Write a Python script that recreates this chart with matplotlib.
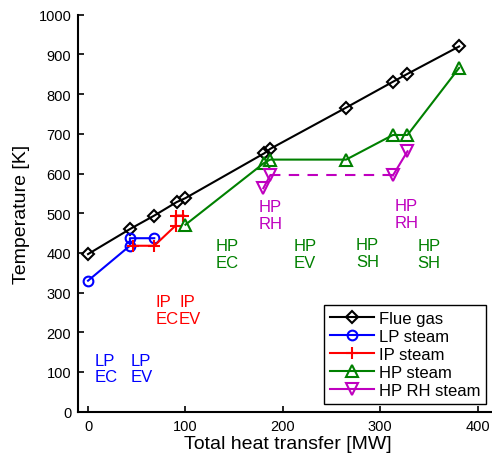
import matplotlib
matplotlib.use("Agg")
import matplotlib.pyplot as plt

plt.rcParams['font.family'] = ['Liberation Sans', 'DejaVu Sans']

# Heat-transfer (MW) vs temperature (K) profiles
flue_q = [0, 43, 68, 91, 100, 181, 187, 265, 313, 328, 381]
flue_t = [397, 460, 494, 528, 538, 651, 662, 766, 831, 851, 920]

lp_q = [0, 43, 43, 68]
lp_t = [330, 418, 437, 437]

ip_q = [46, 68, 90, 90, 98]
ip_t = [418, 418, 469, 494, 494]

hp_q = [100, 181, 187, 265, 313, 328, 381]
hp_t = [471, 627, 635, 635, 697, 697, 866]

rh_q = [180, 187, 313, 328]
rh_t = [563, 595, 595, 656]

# Section labels: (x, y, text, colour)
labels_text = ["LP\nEC", "LP\nEV", "IP\nEC", "IP\nEV", "HP\nEC", "HP\nEV",
               "HP\nSH", "HP\nSH", "HP\nRH", "HP\nRH"]
labels_x = [6.5, 44, 69.5, 93.4, 130.5, 211, 275, 338.5, 175, 314.5]
labels_y = [109, 109, 256, 256, 397, 397, 399, 397, 496, 498]

BLUE = (0, 0, 1)
RED = (1, 0, 0)
GREEN = (0, 0.5, 0)
PURPLE = (0.75, 0, 0.75)
label_colors = [BLUE, BLUE, RED, RED, GREEN, GREEN, GREEN, GREEN, PURPLE, PURPLE]

fig = plt.figure(figsize=(4.92, 4.60), dpi=100)
ax = fig.add_axes([78.3 / 492, (460 - 412.7) / 460, 418.8 / 492, 397 / 460])

lw = 1.5
mew = 1.5
ax.plot(flue_q, flue_t, color='k', lw=lw, marker='D', ms=6.5, mfc='none',
        mew=mew, label='Flue gas')
ax.plot(lp_q, lp_t, color=BLUE, lw=lw, marker='o', ms=7, mfc='none',
        mew=mew, label='LP steam')
ax.plot(ip_q, ip_t, color=RED, lw=lw, marker='+', ms=8, mew=mew,
        label='IP steam')
ax.plot(hp_q, hp_t, color=GREEN, lw=lw, marker='^', ms=8, mfc='none',
        mew=mew, label='HP steam')
# reheater: solid segments through the markers, dashed across the gap
ax.plot(rh_q[:2], rh_t[:2], color=PURPLE, lw=lw, marker='v', ms=8,
        mfc='none', mew=mew, label='HP RH steam')
ax.plot(rh_q[2:], rh_t[2:], color=PURPLE, lw=lw, marker='v', ms=8,
        mfc='none', mew=mew)
ax.plot(rh_q[1:3], rh_t[1:3], color=PURPLE, lw=lw, ls=(0, (5, 4)))

for x, y, s, c in zip(labels_x, labels_y, labels_text, label_colors):
    ax.text(x, y, s, color=c, fontsize=12, ha='left', va='center',
            linespacing=1.15)

ax.set_xlim(-10, 420)
ax.set_ylim(0, 1000)
ax.set_xticks([0, 100, 200, 300, 400])
ax.set_yticks(range(0, 1001, 100))
ax.tick_params(direction='in', length=4, width=1.2, labelsize=10.5, pad=5)
for side in ('top', 'right'):
    ax.spines[side].set_visible(False)
for side in ('left', 'bottom'):
    ax.spines[side].set_linewidth(1.5)

ax.set_xlabel('Total heat transfer [MW]', fontsize=14, labelpad=2)
ax.set_ylabel('Temperature [K]', fontsize=14, labelpad=6)

leg = ax.legend(loc='lower right', bbox_to_anchor=(0.9735, 0.019),
                fontsize=12, frameon=True, fancybox=False, framealpha=1,
                edgecolor='k', handlelength=2.65, handletextpad=0.3,
                labelspacing=0.18, borderpad=0.35, borderaxespad=0)
leg.get_frame().set_linewidth(1.0)

fig.savefig('out.png', dpi=100)
